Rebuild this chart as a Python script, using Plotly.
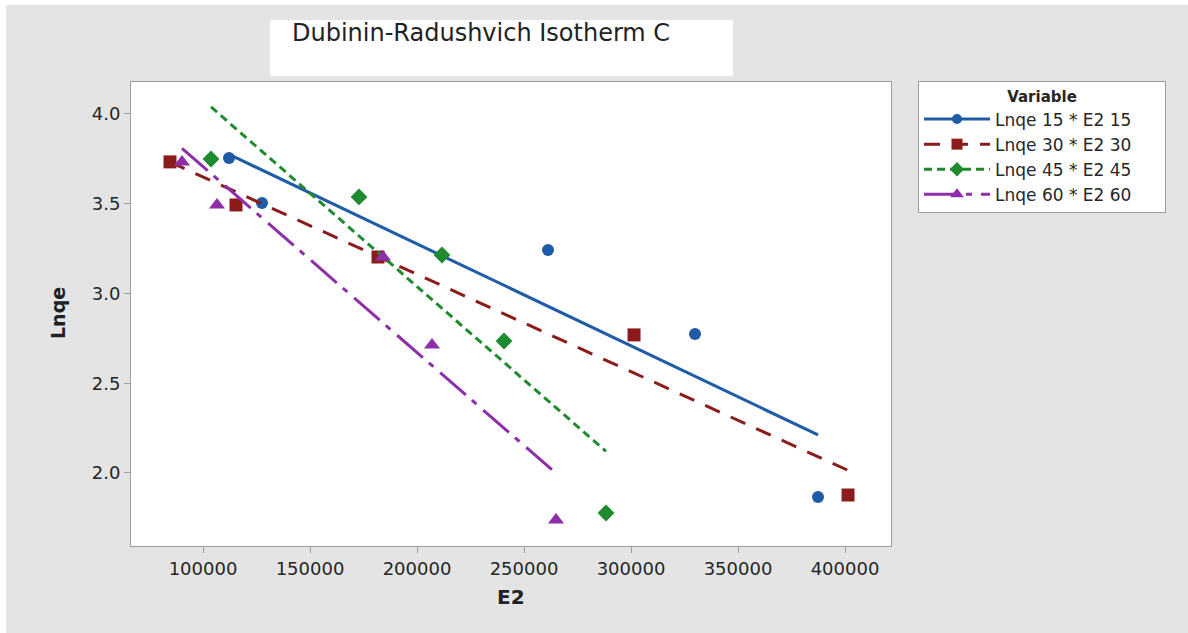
import numpy as np
import plotly.graph_objects as go

# ---- data ----
series_names = ["Lnqe 15 * E2 15", "Lnqe 30 * E2 30", "Lnqe 45 * E2 45", "Lnqe 60 * E2 60"]
e2_15 = [112150, 127570, 261220, 329910, 387390]
lnqe_15 = [3.755, 3.504, 3.242, 2.774, 1.866]
e2_30 = [84580, 115420, 181780, 301410, 401410]
lnqe_30 = [3.733, 3.493, 3.203, 2.769, 1.877]
e2_45 = [103740, 172900, 211680, 240660, 288320]
lnqe_45 = [3.749, 3.538, 3.214, 2.735, 1.777]
e2_60 = [90190, 106540, 184110, 207010, 264960]
lnqe_60 = [3.733, 3.493, 3.203, 2.713, 1.738]

x_ticks = [100000, 150000, 200000, 250000, 300000, 350000, 400000]
y_ticks = [2.0, 2.5, 3.0, 3.5, 4.0]

colors = ["#1F5BA6", "#8C1B1B", "#1E8B2E", "#8E2EA8"]
symbols = ["circle", "square", "diamond", "triangle-up"]
msizes = [12, 13, 13, 14]
dashes = ["solid", "16px,12px", "8px,5px", "34px,8px,6px,9px"]

xs = [e2_15, e2_30, e2_45, e2_60]
ys = [lnqe_15, lnqe_30, lnqe_45, lnqe_60]

fig = go.Figure()
for name, x, y, c, s, ms, d in zip(series_names, xs, ys, colors, symbols, msizes, dashes):
    x = np.array(x, dtype=float)
    y = np.array(y, dtype=float)
    k, b = np.polyfit(x, y, 1)
    xf = np.array([x.min(), x.max()])
    fig.add_trace(go.Scatter(x=xf, y=k * xf + b, mode="lines",
                             line=dict(color=c, width=3, dash=d),
                             showlegend=False, hoverinfo="skip"))
    fig.add_trace(go.Scatter(x=x, y=y, mode="markers",
                             marker=dict(color=c, symbol=s, size=ms, line=dict(width=0)),
                             showlegend=False))
    fig.add_trace(go.Scatter(x=[None], y=[None], mode="lines+markers", name=name,
                             line=dict(color=c, width=3, dash=d),
                             marker=dict(color=c, symbol=s, size=ms - 2, line=dict(width=0))))

FONT = "DejaVu Sans"
L, R, T, B = 131, 891, 82, 546
W, H = 1188, 633
pw, ph = R - L, B - T

def px(xp):
    return (xp - L) / pw

def py(yp):
    return (B - yp) / ph

axis_common = dict(showgrid=False, zeroline=False, showline=True, mirror=True,
                   linecolor="#9c9c9c", linewidth=1, ticks="outside", ticklen=6,
                   tickcolor="#9c9c9c", tickfont=dict(family=FONT, size=18, color="#262626"))

pad = "\u00a0" * 18
fig.update_layout(
    width=W, height=H,
    margin=dict(l=L, r=W - R, t=T, b=H - B, pad=0),
    paper_bgcolor="#e4e4e4",
    plot_bgcolor="#ffffff",
    xaxis=dict(range=[66355, 421496], tickvals=x_ticks, tickformat="d", **axis_common),
    yaxis=dict(range=[1.593, 4.178], tickvals=y_ticks, tickformat=".1f", **axis_common),
    legend=dict(x=px(918), y=py(81), xanchor="left", yanchor="top",
                bgcolor="#ffffff", bordercolor="#9c9c9c", borderwidth=1,
                font=dict(family=FONT, size=17, color="#262626"),
                title=dict(text=pad + "<b>Variable</b>" + pad, side="top center",
                           font=dict(family=FONT, size=15, color="#262626")),
                itemwidth=66, tracegroupgap=0),
    shapes=[
        dict(type="rect", xref="paper", yref="paper", x0=px(0), x1=px(W), y0=py(5), y1=py(0),
             fillcolor="#ffffff", line=dict(width=0), layer="below"),
        dict(type="rect", xref="paper", yref="paper", x0=px(0), x1=px(6), y0=py(H), y1=py(0),
             fillcolor="#ffffff", line=dict(width=0), layer="below"),
        dict(type="rect", xref="paper", yref="paper", x0=px(270), x1=px(733), y0=py(76), y1=py(20),
             fillcolor="#ffffff", line=dict(width=0), layer="below"),
    ],
    annotations=[
        dict(text="Dubinin-Radushvich Isotherm C", xref="paper", yref="paper",
             x=px(290), y=py(33), xanchor="left", yanchor="middle", showarrow=False,
             font=dict(family=FONT, size=24, color="#222222")),
        dict(text="<b>E2</b>", xref="paper", yref="paper", x=px(511), y=py(597),
             xanchor="center", yanchor="middle", showarrow=False,
             font=dict(family=FONT, size=20, color="#222222")),
        dict(text="<b>Lnqe</b>", xref="paper", yref="paper", x=px(58), y=py(313),
             xanchor="center", yanchor="middle", showarrow=False, textangle=-90,
             font=dict(family=FONT, size=19, color="#222222")),
    ],
)

fig.write_html("out.html")
